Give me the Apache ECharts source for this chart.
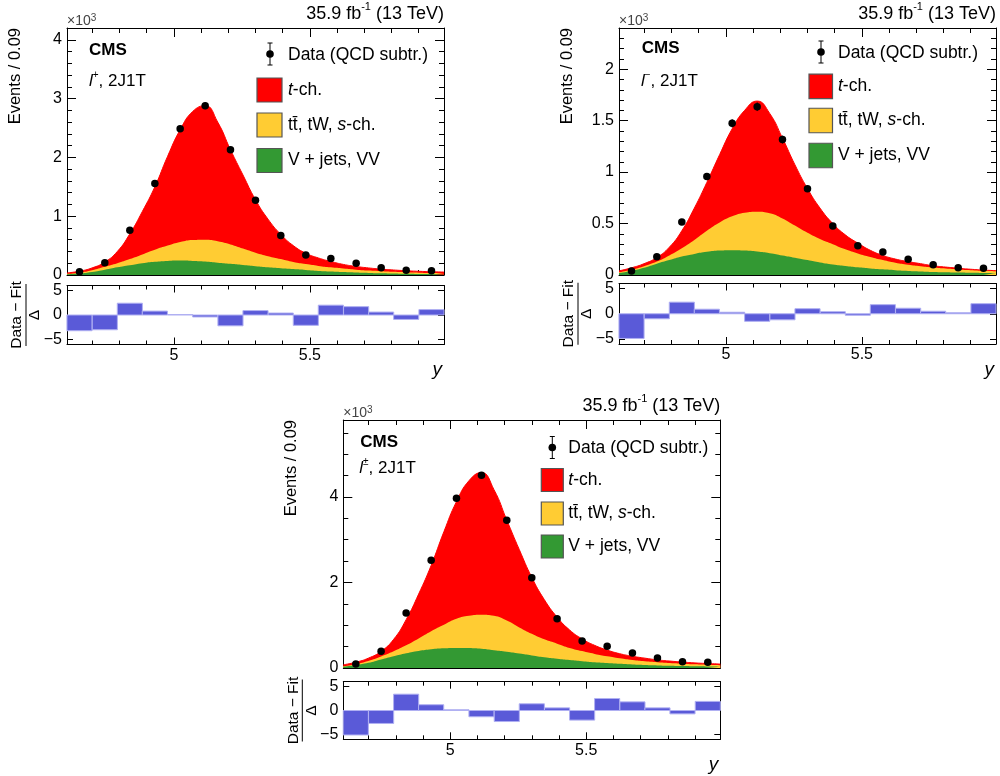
<!DOCTYPE html>
<html><head><meta charset="utf-8">
<script src="https://cdn.jsdelivr.net/npm/echarts/dist/echarts.min.js"></script>
<style>html,body{margin:0;padding:0;background:#fff}#c{width:1000px;height:776px}</style>
</head><body><div id="c"></div>
<script>
// ---------------- data ----------------
const X_MIN = 4.607, X_MAX = 5.993, BIN_W = 0.0924;
const binCenters = [4.653, 4.746, 4.838, 4.930, 5.023, 5.115, 5.208, 5.300, 5.393, 5.485, 5.577, 5.670, 5.762, 5.854, 5.947];
const curveX = [4.607, 4.653, 4.699, 4.746, 4.792, 4.838, 4.884, 4.930, 4.977, 5.023, 5.069, 5.115, 5.161, 5.208, 5.254, 5.300,
  5.346, 5.393, 5.439, 5.485, 5.531, 5.577, 5.623, 5.670, 5.716, 5.762, 5.808, 5.854, 5.900, 5.947, 5.993];

// l+ (values in units of 10^3 events)
const dataPlus = [0.056, 0.209, 0.763, 1.554, 2.486, 2.876, 2.130, 1.271, 0.672, 0.339, 0.282, 0.198, 0.124, 0.079, 0.073];
const errPlus  = [0.010, 0.016, 0.030, 0.042, 0.052, 0.056, 0.048, 0.038, 0.028, 0.020, 0.018, 0.015, 0.012, 0.010, 0.010];
const fitTotalPlus = [0.035, 0.065, 0.12, 0.22, 0.40, 0.70, 1.08, 1.50, 2.02, 2.47, 2.78, 2.88, 2.60, 2.13, 1.70, 1.28,
  0.95, 0.69, 0.50, 0.37, 0.29, 0.23, 0.18, 0.145, 0.12, 0.10, 0.085, 0.073, 0.063, 0.056, 0.05];
const fitTopVPlus = [0.02, 0.04, 0.08, 0.14, 0.20, 0.27, 0.35, 0.43, 0.50, 0.56, 0.595, 0.60, 0.575, 0.52, 0.45, 0.38,
  0.32, 0.27, 0.22, 0.185, 0.155, 0.13, 0.11, 0.09, 0.075, 0.065, 0.055, 0.047, 0.04, 0.035, 0.03];
const fitVPlus = [0.012, 0.025, 0.05, 0.09, 0.13, 0.165, 0.20, 0.225, 0.24, 0.245, 0.24, 0.23, 0.21, 0.19, 0.17, 0.15,
  0.13, 0.115, 0.10, 0.085, 0.07, 0.06, 0.05, 0.042, 0.035, 0.03, 0.025, 0.02, 0.017, 0.015, 0.013];
const pullPlus = [-3.2, -3.0, 2.4, 0.8, 0.1, -0.4, -2.2, 0.9, 0.4, -2.1, 2.0, 1.7, 0.6, -0.9, 1.1];

// l-
const dataMinus = [0.039, 0.177, 0.516, 0.958, 1.474, 1.635, 1.316, 0.839, 0.477, 0.284, 0.223, 0.152, 0.100, 0.071, 0.065];
const errMinus  = [0.008, 0.014, 0.024, 0.032, 0.040, 0.042, 0.038, 0.030, 0.023, 0.018, 0.016, 0.013, 0.011, 0.009, 0.009];
const fitTotalMinus = [0.04, 0.07, 0.11, 0.17, 0.27, 0.43, 0.65, 0.90, 1.17, 1.42, 1.60, 1.69, 1.57, 1.33, 1.07, 0.84,
  0.65, 0.50, 0.39, 0.31, 0.24, 0.19, 0.155, 0.13, 0.11, 0.09, 0.077, 0.066, 0.056, 0.048, 0.042];
const fitTopVMinus = [0.025, 0.05, 0.085, 0.13, 0.19, 0.26, 0.34, 0.43, 0.51, 0.57, 0.605, 0.615, 0.60, 0.55, 0.48, 0.41,
  0.35, 0.30, 0.25, 0.21, 0.175, 0.145, 0.12, 0.10, 0.085, 0.072, 0.062, 0.054, 0.047, 0.041, 0.036];
const fitVMinus = [0.02, 0.04, 0.07, 0.11, 0.145, 0.18, 0.205, 0.225, 0.237, 0.24, 0.237, 0.228, 0.212, 0.19, 0.168, 0.145,
  0.122, 0.102, 0.088, 0.075, 0.064, 0.055, 0.047, 0.04, 0.035, 0.03, 0.027, 0.024, 0.022, 0.02, 0.018];
const pullMinus = [-4.9, -1.0, 2.3, 0.9, 0.3, -1.5, -1.2, 1.0, 0.4, -0.3, 1.8, 1.1, 0.5, 0.2, 2.0];

// l+-
const dataBoth = [0.094, 0.390, 1.287, 2.520, 3.970, 4.507, 3.454, 2.113, 1.154, 0.632, 0.507, 0.351, 0.234, 0.148, 0.133];
const errBoth  = [0.013, 0.021, 0.038, 0.053, 0.066, 0.070, 0.061, 0.048, 0.036, 0.027, 0.024, 0.020, 0.016, 0.013, 0.012];
const fitTotalBoth = [0.075, 0.135, 0.23, 0.39, 0.67, 1.13, 1.73, 2.40, 3.19, 3.89, 4.38, 4.57, 4.17, 3.46, 2.77, 2.12,
  1.60, 1.19, 0.89, 0.68, 0.53, 0.42, 0.335, 0.275, 0.23, 0.19, 0.162, 0.139, 0.119, 0.104, 0.092];
const fitTopVBoth = [0.045, 0.09, 0.165, 0.27, 0.39, 0.53, 0.69, 0.86, 1.01, 1.15, 1.22, 1.245, 1.22, 1.11, 0.95, 0.80,
  0.67, 0.57, 0.47, 0.395, 0.33, 0.275, 0.23, 0.19, 0.16, 0.137, 0.117, 0.101, 0.087, 0.076, 0.066];
const fitVBoth = [0.032, 0.065, 0.12, 0.20, 0.275, 0.345, 0.40, 0.44, 0.462, 0.47, 0.465, 0.448, 0.415, 0.38, 0.338, 0.295,
  0.252, 0.217, 0.188, 0.16, 0.134, 0.115, 0.097, 0.082, 0.07, 0.06, 0.052, 0.044, 0.039, 0.035, 0.031];
const pullBoth = [-5.1, -2.7, 3.4, 1.2, 0.15, -1.3, -2.3, 1.4, 0.55, -2.0, 2.5, 1.8, 0.55, -0.7, 1.9];

const lumiText = '35.9 fb';
const legendNames = ['Data (QCD subtr.)', 't-ch.', 'tt\u0304, tW, s-ch.', 'V + jets, VV'];

// ---------------- layout ----------------
const FONT = '"Liberation Sans", Arial, Helvetica, sans-serif';
const C_RED = '#ff0000', C_YEL = '#ffcc33', C_GRN = '#339933', C_PULL = '#5a5ad8', C_PULL_EDGE = '#b0b0f2';

const panels = [
  { fx: 67, fy: 28, fw: 377, fh: 247, ry: 285.5, rh: 59, ymax: 4.2, yint: 1, ysplit: 5, lep: '+',
    data: dataPlus, err: errPlus, tot: fitTotalPlus, topv: fitTopVPlus, v: fitVPlus, pull: pullPlus,
    cms: [22, 22], chan: [22, 52], leg: { lx: 190, bw: 25, bh: 24, rows: [26, 62, 97, 132.5], tx: 221, mx: 203 } },
  { fx: 619, fy: 28, fw: 377, fh: 247, ry: 283.5, rh: 60.5, ymax: 2.4, yint: 0.5, ysplit: 5, lep: '\u2212',
    data: dataMinus, err: errMinus, tot: fitTotalMinus, topv: fitTopVMinus, v: fitVMinus, pull: pullMinus,
    cms: [22.7, 20], chan: [22, 52], leg: { lx: 190, bw: 23.5, bh: 24.5, rows: [24, 58.3, 92.5, 127.5], tx: 219, mx: 202 } },
  { fx: 343.3, fy: 420, fw: 377, fh: 248, ry: 681.7, rh: 57.6, ymax: 5.8, yint: 2, ysplit: 4, lep: '\u00b1',
    data: dataBoth, err: errBoth, tot: fitTotalBoth, topv: fitTopVBoth, v: fitVBoth, pull: pullBoth,
    cms: [17, 22], chan: [16, 47], leg: { lx: 198, bw: 22, bh: 23, rows: [27.5, 60, 93.5, 126.5], tx: 225, mx: 209 } }
];

function fmtIf(v, step) {
  const r = v / step;
  if (Math.abs(r - Math.round(r)) > 1e-6) return '';
  const s = String(+v.toFixed(3));
  return s.replace('-', '\u2212');
}

const grids = [], xAxes = [], yAxes = [], series = [], graphics = [];

function xAx(g, pos, isRatio) {
  return {
    type: 'value', gridIndex: g, position: pos, min: X_MIN, max: X_MAX,
    splitNumber: 3, minInterval: 0.5, maxInterval: 0.5,
    axisLine: { show: true, onZero: false, lineStyle: { color: '#000', width: 1 } },
    axisTick: { show: true, inside: true, length: isRatio ? 7 : 9, lineStyle: { color: '#000', width: 1 } },
    minorTick: { show: true, splitNumber: 5, length: isRatio ? 4 : 5, lineStyle: { color: '#000', width: 1 } },
    splitLine: { show: false }, minorSplitLine: { show: false },
    axisLabel: { show: isRatio && pos === 'bottom', fontSize: 16, color: '#000', fontFamily: FONT, margin: 3,
      formatter: v => fmtIf(v, 0.5) }
  };
}
function yAxMain(g, pos, p) {
  return {
    type: 'value', gridIndex: g, position: pos, min: 0, max: p.ymax, interval: p.yint,
    axisLine: { show: true, onZero: false, lineStyle: { color: '#000', width: 1 } },
    axisTick: { show: true, inside: true, length: 9, lineStyle: { color: '#000', width: 1 } },
    minorTick: { show: true, splitNumber: p.ysplit, length: 5, lineStyle: { color: '#000', width: 1 } },
    splitLine: { show: false }, minorSplitLine: { show: false },
    axisLabel: { show: pos === 'left', fontSize: 16, color: '#000', fontFamily: FONT, margin: 5,
      formatter: v => fmtIf(v, p.yint) }
  };
}
function yAxRatio(g, pos) {
  return {
    type: 'value', gridIndex: g, position: pos, min: -6, max: 6, splitNumber: 2, minInterval: 5, maxInterval: 5,
    axisLine: { show: true, onZero: false, lineStyle: { color: '#000', width: 1 } },
    axisTick: { show: true, inside: true, length: 6, lineStyle: { color: '#000', width: 1 } },
    splitLine: { show: false },
    axisLabel: { show: pos === 'left', fontSize: 16, color: '#000', fontFamily: FONT, margin: 5,
      formatter: v => fmtIf(v, 5) }
  };
}

function txt(x, y, text, o) {
  const st = Object.assign({ text: text, fill: '#000', fontFamily: FONT, fontSize: 17,
    textAlign: 'left', align: 'left', textVerticalAlign: 'middle', verticalAlign: 'middle' }, o || {});
  return { type: 'text', x: x, y: y, silent: true, z: 100, style: st };
}

panels.forEach((p, i) => {
  const gm = 2 * i, gr = 2 * i + 1;
  grids.push({ left: p.fx, top: p.fy, width: p.fw, height: p.fh, containLabel: false });
  grids.push({ left: p.fx, top: p.ry, width: p.fw, height: p.rh, containLabel: false });
  xAxes.push(xAx(gm, 'bottom', false), xAx(gm, 'top', false), xAx(gr, 'bottom', true), xAx(gr, 'top', true));
  yAxes.push(yAxMain(gm, 'left', p), yAxMain(gm, 'right', p), yAxRatio(gr, 'left'), yAxRatio(gr, 'right'));
  const xm = 2 * gm, xr = 2 * gr;
  const areaSeries = (arr, color, z, lw) => ({
    type: 'line', xAxisIndex: xm, yAxisIndex: xm, data: curveX.map((x, k) => [x, arr[k]]),
    smooth: 0.5, symbol: 'none', silent: true, z: z,
    lineStyle: { color: color, width: lw }, areaStyle: { color: color, opacity: 1 }
  });
  series.push(areaSeries(p.tot, C_RED, 1, 1));
  series.push(areaSeries(p.topv, C_YEL, 2, 0));
  series.push(areaSeries(p.v, C_GRN, 3, 0));
  series.push({
    type: 'custom', xAxisIndex: xm, yAxisIndex: xm, z: 4, silent: true,
    data: binCenters.map((x, k) => [x, p.data[k], p.err[k]]), encode: { x: 0, y: 1 },
    renderItem: (params, api) => {
      const x = api.value(0), y = api.value(1), e = api.value(2);
      const a = api.coord([x, y - e]), b = api.coord([x, y + e]);
      return { type: 'line', shape: { x1: a[0], y1: a[1], x2: b[0], y2: b[1] }, style: { stroke: '#000', lineWidth: 1 } };
    }
  });
  series.push({
    type: 'scatter', xAxisIndex: xm, yAxisIndex: xm, z: 5, silent: true, symbol: 'circle', symbolSize: 7.5,
    itemStyle: { color: '#000', opacity: 1 }, data: binCenters.map((x, k) => [x, p.data[k]])
  });
  series.push({
    type: 'custom', xAxisIndex: xr, yAxisIndex: xr, z: 2, silent: true,
    data: binCenters.map((x, k) => [x, p.pull[k]]), encode: { x: 0, y: 1 },
    renderItem: (params, api) => {
      const c = api.value(0), v = api.value(1);
      const a = api.coord([c - BIN_W / 2, 0]), b = api.coord([c + BIN_W / 2, v]);
      return { type: 'rect', shape: { x: a[0], y: Math.min(a[1], b[1]), width: b[0] - a[0], height: Math.abs(b[1] - a[1]) },
        style: { fill: C_PULL, stroke: C_PULL_EDGE, lineWidth: 1 } };
    }
  });

  // ------- texts -------
  const R = p.fx + p.fw;
  graphics.push(txt(R, p.fy - 16, '{n|' + lumiText + '}{s|-1}{n| (13 TeV)}', {
    textAlign: 'right', align: 'right',
    rich: { n: { fontSize: 18, fontFamily: FONT, lineHeight: 22, verticalAlign: 'bottom', fill: '#000' },
            s: { fontSize: 11, fontFamily: FONT, lineHeight: 14, verticalAlign: 'top', fill: '#000' } }
  }));
  graphics.push(txt(p.fx, p.fy - 7, '{n|\u00d710}{s|3}', {
    rich: { n: { fontSize: 14, fontFamily: FONT, lineHeight: 15, verticalAlign: 'bottom', fill: '#444' },
            s: { fontSize: 10, fontFamily: FONT, lineHeight: 10, verticalAlign: 'top', fill: '#444' } }
  }));
  graphics.push(txt(p.fx + p.cms[0], p.fy + p.cms[1], 'CMS', { fontWeight: 'bold', fontSize: 17 }));
  graphics.push(txt(p.fx + p.chan[0], p.fy + p.chan[1], '{i|l}{s|' + p.lep + '}{n|, 2J1T}', {
    rich: { i: { fontSize: 17, fontStyle: 'italic', fontFamily: FONT, lineHeight: 20, verticalAlign: 'bottom' },
            n: { fontSize: 17, fontFamily: FONT, lineHeight: 20, verticalAlign: 'bottom' },
            s: { fontSize: 10, fontFamily: FONT, lineHeight: 12, verticalAlign: 'top' } }
  }));
  graphics.push({ type: 'text', x: p.fx - 52, y: p.fy, rotation: Math.PI / 2, silent: true, z: 100,
    style: { text: 'Events / 0.09', fill: '#000', fontFamily: FONT, fontSize: 16.5,
      textAlign: 'right', align: 'right', textVerticalAlign: 'middle', verticalAlign: 'middle' } });
  graphics.push({ type: 'group', x: p.fx - 41, y: p.ry + p.rh / 2, rotation: Math.PI / 2, silent: true, z: 100,
    children: [
      { type: 'text', x: 0, y: -1, style: { text: 'Data \u2212 Fit', fill: '#000', fontFamily: FONT, fontSize: 15.5,
          textAlign: 'center', align: 'center', textVerticalAlign: 'bottom', verticalAlign: 'bottom' } },
      { type: 'line', shape: { x1: -31, y1: 0, x2: 31, y2: 0 }, style: { stroke: '#000', lineWidth: 1 } },
      { type: 'text', x: 0, y: 1, style: { text: '\u0394', fill: '#000', fontFamily: FONT, fontSize: 15.5,
          textAlign: 'center', align: 'center', textVerticalAlign: 'top', verticalAlign: 'top' } }
    ] });
  graphics.push(txt(R - 2, p.ry + p.rh + 25.5, 'y', { textAlign: 'right', align: 'right', fontStyle: 'italic', fontSize: 19 }));

  // ------- legend -------
  const L = p.leg;
  const mx = p.fx + L.mx, my = p.fy + L.rows[0];
  graphics.push({ type: 'line', silent: true, z: 100, shape: { x1: mx, y1: my - 11, x2: mx, y2: my + 11 }, style: { stroke: '#000', lineWidth: 1 } });
  graphics.push({ type: 'line', silent: true, z: 100, shape: { x1: mx - 2.5, y1: my - 11, x2: mx + 2.5, y2: my - 11 }, style: { stroke: '#000', lineWidth: 1 } });
  graphics.push({ type: 'line', silent: true, z: 100, shape: { x1: mx - 2.5, y1: my + 11, x2: mx + 2.5, y2: my + 11 }, style: { stroke: '#000', lineWidth: 1 } });
  graphics.push({ type: 'circle', silent: true, z: 101, shape: { cx: mx, cy: my, r: 3.8 }, style: { fill: '#000' } });
  graphics.push(txt(p.fx + L.tx, p.fy + L.rows[0] + 1, legendNames[0], { fontSize: 17.5 }));
  const boxCols = [C_RED, C_YEL, C_GRN];
  const labs = ['{i|t}{n|-ch.}', '{n|tt\u0304, tW, }{i|s}{n|-ch.}', '{n|V + jets, VV}'];
  for (let k = 0; k < 3; k++) {
    const cy = p.fy + L.rows[k + 1];
    graphics.push({ type: 'rect', silent: true, z: 100,
      shape: { x: p.fx + L.lx, y: cy - L.bh / 2, width: L.bw, height: L.bh },
      style: { fill: boxCols[k], stroke: '#555', lineWidth: 1.2 } });
    graphics.push(txt(p.fx + L.tx, cy, labs[k], {
      rich: { n: { fontSize: 17.5, fontFamily: FONT }, i: { fontSize: 17.5, fontFamily: FONT, fontStyle: 'italic' } }
    }));
  }
});

const chart = echarts.init(document.getElementById('c'), null, { renderer: 'canvas' });
chart.setOption({
  backgroundColor: '#fff', animation: false, textStyle: { fontFamily: FONT },
  grid: grids, xAxis: xAxes, yAxis: yAxes, series: series, graphic: graphics
});
</script></body></html>
